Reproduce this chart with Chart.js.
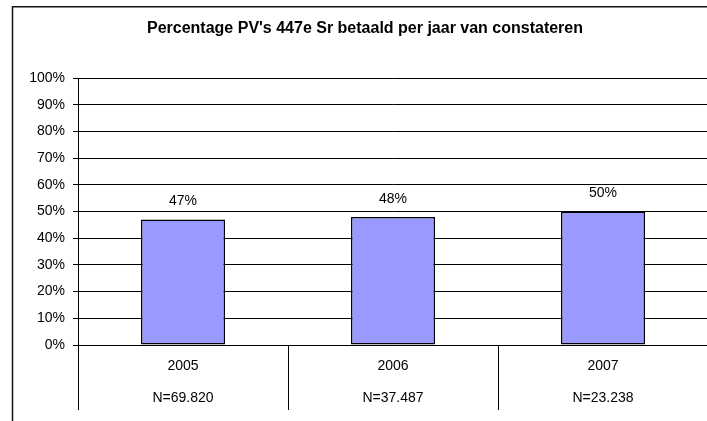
<!DOCTYPE html>
<html lang="nl">
<head>
<meta charset="utf-8">
<title>Percentage PV's 447e Sr betaald per jaar van constateren</title>
<script src="https://cdn.jsdelivr.net/npm/chart.js@4/dist/chart.umd.min.js"></script>
<style>
  html, body { margin: 0; padding: 0; background: #fff; overflow: hidden; }
  canvas { display: block; }
</style>
</head>
<body>
<canvas id="chart" width="730" height="421"></canvas>
<script>
'use strict';
// data
const YEARS = ['2005', '2006', '2007'];
const N_LABELS = ['N=69.820', 'N=37.487', 'N=23.238'];
const PAID_PERCENT = [47, 48, 50];
const Y_TICKS = [0, 10, 20, 30, 40, 50, 60, 70, 80, 90, 100];

const FONT = 'Arial, "Liberation Sans", sans-serif';

// outer frame of the chart (like the Excel chart border)
const framePlugin = {
  id: 'frame',
  afterDraw(chart) {
    const ctx = chart.ctx;
    ctx.save();
    ctx.strokeStyle = '#111';
    ctx.lineWidth = 1.5;
    ctx.strokeRect(12.5, 6.75, 707, 440);
    ctx.restore();
  },
};

// percentage above every bar
const valueLabelPlugin = {
  id: 'valueLabels',
  afterDatasetsDraw(chart) {
    const ctx = chart.ctx;
    const meta = chart.getDatasetMeta(0);
    ctx.save();
    ctx.font = '14px ' + FONT;
    ctx.fillStyle = '#000';
    ctx.textAlign = 'center';
    ctx.textBaseline = 'middle';
    meta.data.forEach((bar, i) => {
      ctx.fillText(PAID_PERCENT[i] + '%', bar.x, bar.y - 18);
    });
    ctx.restore();
  },
};

new Chart(document.getElementById('chart'), {
  type: 'bar',
  data: {
    labels: YEARS.map((y, i) => [y, N_LABELS[i]]),
    datasets: [
      {
        data: PAID_PERCENT,
        backgroundColor: '#9999FF',
        borderColor: '#000',
        borderWidth: 1.5,
        borderSkipped: false,
        categoryPercentage: 1,
        barPercentage: 0.4,
      },
    ],
  },
  options: {
    responsive: false,
    animation: false,
    layout: { padding: { left: 22, right: 22, top: 0, bottom: 0 } },
    plugins: {
      legend: { display: false },
      tooltip: { enabled: false },
      title: {
        display: true,
        text: "Percentage PV's 447e Sr betaald per jaar van constateren",
        color: '#000',
        font: { family: FONT, size: 16, weight: 'bold' },
        padding: { top: 19, bottom: 40 },
      },
    },
    scales: {
      x: {
        grid: {
          offset: true,
          drawOnChartArea: false,
          tickLength: 65,
          color: '#000',
        },
        border: { color: '#000', width: 1 },
        ticks: {
          color: '#000',
          font: { family: FONT, size: 14, lineHeight: 32 / 14 },
          padding: -60,
          maxRotation: 0,
        },
        afterFit(scale) {
          scale.height = 76;
        },
      },
      y: {
        min: 0,
        max: 100,
        afterBuildTicks(scale) {
          scale.ticks = Y_TICKS.map((v) => ({ value: v }));
        },
        grid: { color: '#000', tickLength: 5 },
        border: { color: '#000', width: 1 },
        ticks: {
          color: '#000',
          font: { family: FONT, size: 14 },
          padding: 8,
          callback: (v) => v + '%',
        },
        afterFit(scale) {
          scale.width = 56;
        },
      },
    },
  },
  plugins: [framePlugin, valueLabelPlugin],
});
</script>
</body>
</html>
